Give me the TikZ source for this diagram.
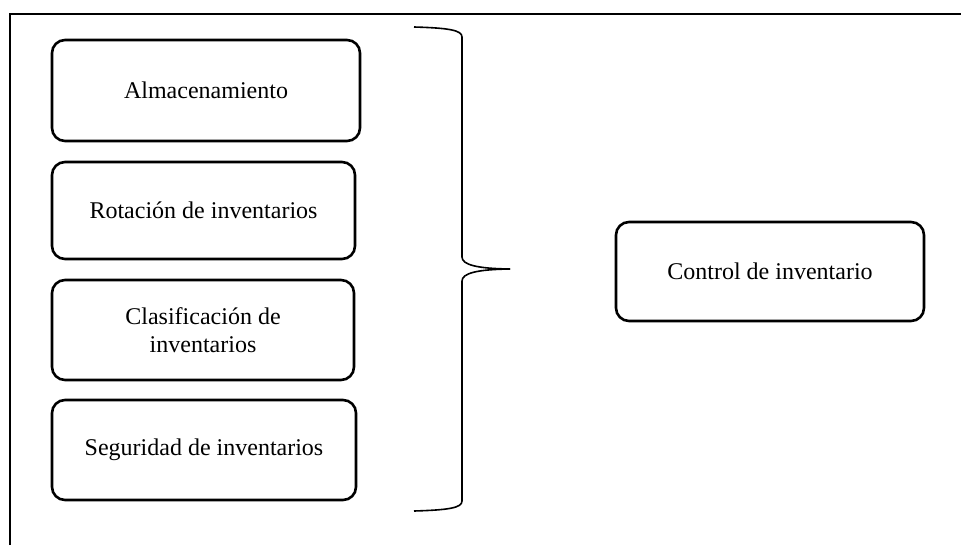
\documentclass[tikz,border=0pt]{standalone}
\usepackage{fontspec}
\setmainfont{Liberation Serif}
\begin{document}
\begin{tikzpicture}[x=0.5pt,y=-0.5pt,
  box/.style={draw, line width=1.3pt, rounded corners=6.5pt, inner sep=0pt,
    align=center, font=\fontsize{12}{13.8}\selectfont},
  frameline/.style={line width=1.3pt},
  braceline/.style={line width=0.8pt}]
\useasboundingbox (0,0) rectangle (961,545);
% frame
\coordinate (fa) at (10,545);
\coordinate (fb) at (10,14);
\coordinate (fc) at (961,14);
\draw[frameline] (fa) -- (fb) -- (fc);
% left boxes
\node[box, minimum width=154pt, minimum height=50.5pt] (alm) at (206,90.5) {Almacenamiento};
\node[box, minimum width=151.5pt, minimum height=48.5pt] (rot) at (203.5,210.5) {Rotación de inventarios};
\node[box, minimum width=151pt, minimum height=50pt] (cla) at (203,330) {Clasificación de\\inventarios};
\node[box, minimum width=152pt, minimum height=50pt] (seg) at (204,450) {Seguridad de inventarios};
% right box
\node[box, minimum width=154pt, minimum height=49.5pt] (ctl) at (770,271.5) {Control de inventario};
% brace
\coordinate (bt) at (414,27);
\coordinate (bm) at (510,269);
\coordinate (bb) at (414,511);
\draw[braceline] (bt) .. controls (448,28) and (462,30) .. (462,37) -- (462,257)
  .. controls (462,265) and (478,268.6) .. (bm);
\draw[braceline] (bm) .. controls (478,269.4) and (462,273) .. (462,281) -- (462,501)
  .. controls (462,508) and (448,510) .. (bb);
\end{tikzpicture}
\end{document}
